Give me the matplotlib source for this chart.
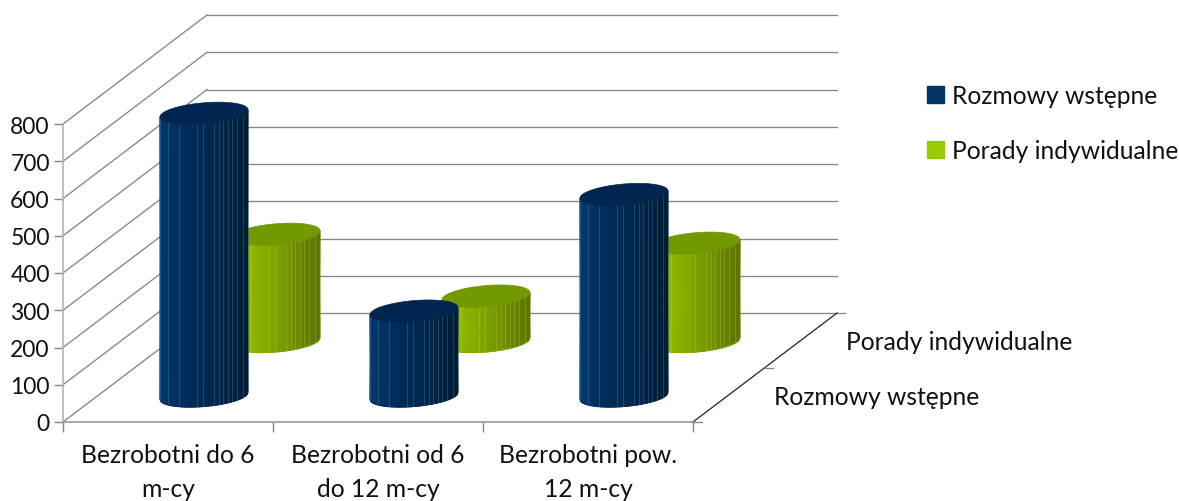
import numpy as np
import matplotlib
matplotlib.use('Agg')
from matplotlib import pyplot as plt
from matplotlib.colors import LinearSegmentedColormap
from matplotlib.patches import Patch

plt.rcParams['font.family'] = ['Lato', 'DejaVu Sans']

categories = ['Bezrobotni do 6\nm-cy', 'Bezrobotni od 6\ndo 12 m-cy', 'Bezrobotni pow.\n12 m-cy']
series_names = ['Rozmowy wstępne', 'Porady indywidualne']
rozmowy = [759, 228, 541]
porady = [288, 122, 264]
y_ticks = [0, 100, 200, 300, 400, 500, 600, 700, 800]

# pixels per data unit of the front plane
PX_X = 630 / 3
PX_Y = 298 / 800
# depth of the box, in data units
DEPTH_X = 144 / PX_X
DEPTH_Y = 109 / PX_Y

GRID = '#868686'
TEXT = '#111111'
FS = 17.7

fig = plt.figure(figsize=(11.79, 5.02), dpi=100)
ax = fig.add_axes([63 / 1179, 79 / 502, 630 / 1179, 298 / 502])
ax.set_xlim(0, 3)
ax.set_ylim(0, 800)
ax.patch.set_visible(False)

# axes
for s in ['top', 'right']:
    ax.spines[s].set_visible(False)
ax.spines['left'].set_color('#b4b4b4')
ax.spines['left'].set_linewidth(1.2)
ax.spines['bottom'].set_color('#9a9a9a')
ax.spines['bottom'].set_linewidth(1.2)
ax.set_yticks(y_ticks)
ax.set_xticks([0, 1, 2, 3])
ax.set_xticklabels([])
ax.set_xticks([0.5, 1.5, 2.5], minor=True)
ax.set_xticklabels(categories, minor=True, fontsize=FS, color=TEXT, linespacing=1.6)
ax.tick_params(axis='x', which='minor', length=0, pad=15)
ax.tick_params(axis='x', which='major', length=7, color=GRID, width=1)
ax.tick_params(axis='y', length=6.5, color=GRID, width=1, labelsize=16.5, labelcolor=TEXT, pad=3)

# walls: back grid, left diagonals
for v in y_ticks:
    right = 3 + DEPTH_X + (8 / PX_X if v == 0 else 0)
    ax.plot([DEPTH_X, right], [v + DEPTH_Y, v + DEPTH_Y], color=GRID, lw=0.95, clip_on=False, zorder=1)
    ax.plot([0, DEPTH_X], [v, v + DEPTH_Y], color=GRID, lw=0.95, clip_on=False, zorder=1)

# floor edges
ax.plot([3, 3 + DEPTH_X], [0, DEPTH_Y], color='#222222', lw=0.9, clip_on=False, zorder=1)
ax.plot([3, 3 + 9 / PX_X], [0, 0], color=GRID, lw=1, clip_on=False, zorder=1)
ax.plot([3 + DEPTH_X / 2 - 1 / PX_X, 3 + DEPTH_X / 2 + 8 / PX_X], [DEPTH_Y / 2, DEPTH_Y / 2],
        color=GRID, lw=0.9, clip_on=False, zorder=1)

ax.text(3 + 81 / PX_X, 25 / PX_Y, series_names[0], fontsize=FS, color=TEXT, va='center', ha='left', clip_on=False)
ax.text(3 + 153 / PX_X, 81 / PX_Y, series_names[1], fontsize=FS, color=TEXT, va='center', ha='left', clip_on=False)

blue_map = LinearSegmentedColormap.from_list('b', ['#003a70', '#00305f', '#002a55', '#002850', '#00223f', '#001f38'])
green_map = LinearSegmentedColormap.from_list('g', ['#97c200', '#8fb800', '#85aa00', '#789a00', '#688400', '#5c7500'])

# light seams on the cylinders, as share of the width
seams = [0, .095, .22, .42, .485, .61, .67, .72, .77, .82, .875, .94, 1]


def rim(x):
    # lower edge of the tilted ellipse relative to its centre, x in -1..1
    return 3.6 * x - 10.5 * np.sqrt(1 - x * x)


def cylinder(cx, base, value, cmap, top_color, seam_color, z):
    a = 44
    f = np.linspace(0, 1, 90)
    x = 2 * f - 1
    lower = rim(x)
    xs = cx + a * x / PX_X
    X = np.vstack([xs, xs])
    Y = np.vstack([base + lower / PX_Y, base + value + lower / PX_Y])
    C = np.vstack([f, f])
    ax.pcolormesh(X, Y, C, cmap=cmap, vmin=0, vmax=1, shading='gouraud', alpha=0.95, zorder=z, clip_on=False)
    # side outline to smooth the mesh edge
    ax.plot(xs, Y[0], color=cmap(0.4), lw=0.7, alpha=0.7, zorder=z, clip_on=False)
    for s in seams:
        sx = 2 * s - 1
        px = cx + a * sx / PX_X
        ax.plot([px, px], [base + rim(sx) / PX_Y, base + value + rim(sx) / PX_Y],
                color=seam_color, lw=0.6, alpha=0.24, zorder=z + 0.1, clip_on=False)
    t = np.linspace(0, 2 * np.pi, 120)
    ax.fill(cx + a * np.cos(t) / PX_X, base + value + (3.6 * np.cos(t) + 10.5 * np.sin(t)) / PX_Y,
            color=top_color, lw=0.5, zorder=z + 0.2, clip_on=False)


for i in range(len(categories)):
    cylinder(i + 0.5 + 108 / PX_X, 80.5 / PX_Y, porady[i], green_map, '#729900', '#dfe8a0', 3 + i)
for i in range(len(categories)):
    cylinder(i + 0.5 + 36 / PX_X, 26 / PX_Y, rozmowy[i], blue_map, '#00264f', '#a8c4e4', 8 + i)

handles = [Patch(color='#003366', label=series_names[0]), Patch(color='#99cc00', label=series_names[1])]
fig.legend(handles=handles, loc='upper left', bbox_to_anchor=(927 / 1179, 1 - 85 / 502), frameon=False,
           fontsize=FS, labelcolor=TEXT, handlelength=0.69, handleheight=0.69, handletextpad=0.33,
           labelspacing=1.3, borderpad=0, borderaxespad=0)

fig.savefig('out.png', dpi=100)
